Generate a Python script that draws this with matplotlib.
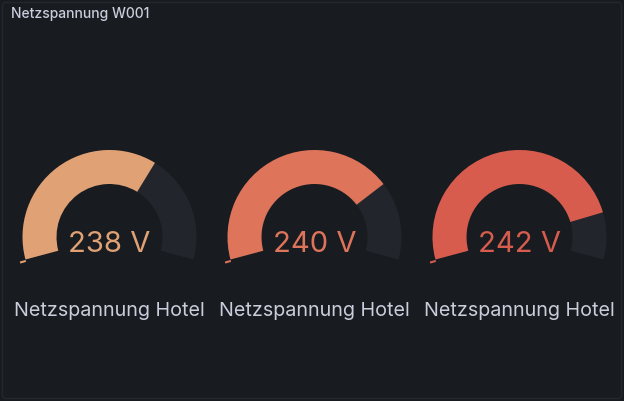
import matplotlib
matplotlib.use("Agg")
import matplotlib.pyplot as plt
from matplotlib.patches import Wedge, FancyBboxPatch

plt.rcParams["font.family"] = ["Inter", "DejaVu Sans"]

TITLE = "Netzspannung W001"
labels = ["Netzspannung Hotel", "Netzspannung Hotel", "Netzspannung Hotel"]
values = [238, 240, 242]
unit = "V"
v_min = 225
v_max = 245
colors = ["#E0A175", "#DE745A", "#D85C4E"]

BG = "#181B1F"
TRACK = "#22252B"
TEXT = "#CCCCDC"

W, H = 624, 401
fig = plt.figure(figsize=(W / 100, H / 100), dpi=100, facecolor=BG)
ax = fig.add_axes([0, 0, 1, 1])
ax.set_xlim(0, W)
ax.set_ylim(0, H)
ax.set_aspect("equal")
ax.axis("off")

# panel border
ax.add_patch(FancyBboxPatch((2.5, 2.5), W - 5, H - 5, boxstyle="round,pad=0,rounding_size=3",
                            fc=BG, ec="#24272d", lw=1))

ax.text(11, H - 14, TITLE, color=TEXT, fontsize=10, fontweight="medium", va="center", ha="left")

start, sweep = 195, 210
r_out, thick = 87, 34
cy = H - 237

for i, (val, lab, col) in enumerate(zip(values, labels, colors)):
    cx = 109.5 + i * 205
    frac = (val - v_min) / (v_max - v_min)
    end = start - sweep * frac
    ax.add_patch(Wedge((cx, cy), r_out, start - sweep, start, width=thick, fc=TRACK, ec="none"))
    ax.add_patch(Wedge((cx, cy), r_out, end, start, width=thick, fc=col, ec="none"))
    # small threshold marker
    ax.add_patch(Wedge((cx, cy), r_out + 6, start + 0.3, start + 1.6, width=6, fc=col, ec="none"))
    ax.text(cx, H - 252, f"{val} {unit}", color=col, fontsize=21, ha="center", va="baseline")
    ax.text(cx, H - 311, lab, color=TEXT, fontsize=14.2, ha="center", va="center")

fig.savefig("out.png", dpi=100, facecolor=BG)
